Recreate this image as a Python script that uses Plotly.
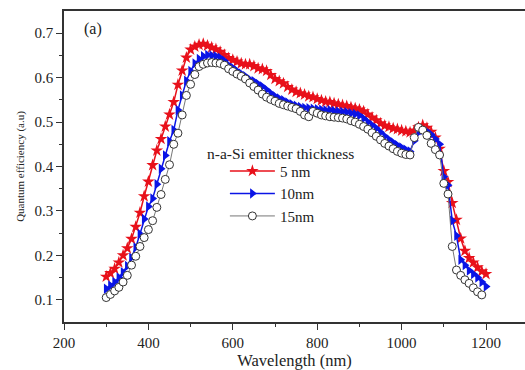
import plotly.graph_objects as go

wavelength = list(range(300, 1201, 10))

qe_5nm = [0.152, 0.160, 0.170, 0.184, 0.200, 0.216, 0.237, 0.264, 0.296, 0.333,
          0.366, 0.403, 0.436, 0.462, 0.490, 0.517, 0.545, 0.584, 0.616, 0.645,
          0.663, 0.670, 0.674, 0.676, 0.672, 0.668, 0.664, 0.658, 0.651, 0.644,
          0.640, 0.636, 0.632, 0.630, 0.630, 0.626, 0.621, 0.619, 0.615, 0.606,
          0.597, 0.592, 0.587, 0.579, 0.573, 0.568, 0.565, 0.562, 0.558, 0.556,
          0.552, 0.549, 0.546, 0.545, 0.542, 0.540, 0.538, 0.536, 0.533, 0.531,
          0.528, 0.524, 0.517, 0.510, 0.504, 0.497, 0.492, 0.489, 0.486, 0.484,
          0.481, 0.479, 0.477, 0.481, 0.488, 0.493, 0.487, 0.478, 0.465, 0.440,
          0.390, 0.365, 0.318, 0.280, 0.238, 0.210, 0.194, 0.184, 0.173, 0.164,
          0.158]

qe_10nm = [0.125, 0.132, 0.140, 0.150, 0.162, 0.176, 0.195, 0.218, 0.248, 0.282,
           0.310, 0.328, 0.360, 0.395, 0.425, 0.457, 0.482, 0.527, 0.560, 0.593,
           0.615, 0.632, 0.642, 0.648, 0.651, 0.650, 0.648, 0.645, 0.638, 0.628,
           0.622, 0.615, 0.609, 0.603, 0.596, 0.592, 0.586, 0.580, 0.573, 0.565,
           0.558, 0.553, 0.549, 0.544, 0.540, 0.537, 0.534, 0.532, 0.531, 0.530,
           0.529, 0.528, 0.527, 0.527, 0.525, 0.524, 0.523, 0.522, 0.520, 0.518,
           0.515, 0.508, 0.500, 0.493, 0.486, 0.477, 0.468, 0.461, 0.454, 0.448,
           0.443, 0.438, 0.434, 0.458, 0.477, 0.482, 0.479, 0.472, 0.462, 0.450,
           0.377, 0.358, 0.278, 0.244, 0.190, 0.178, 0.166, 0.158, 0.150, 0.140,
           0.130]

qe_15nm = [0.105, 0.112, 0.120, 0.128, 0.140, 0.155, 0.178, 0.198, 0.220, 0.240,
           0.258, 0.278, 0.308, 0.337, 0.371, 0.404, 0.450, 0.475, 0.516, 0.560,
           0.585, 0.607, 0.625, 0.630, 0.633, 0.634, 0.633, 0.632, 0.628, 0.620,
           0.614, 0.608, 0.603, 0.597, 0.588, 0.580, 0.572, 0.563, 0.556, 0.551,
           0.547, 0.542, 0.539, 0.536, 0.533, 0.530, 0.524, 0.516, 0.512, 0.524,
           0.520, 0.516, 0.514, 0.512, 0.511, 0.510, 0.509, 0.507, 0.503, 0.500,
           0.495, 0.490, 0.484, 0.476, 0.468, 0.460, 0.452, 0.446, 0.440, 0.434,
           0.430, 0.427, 0.426, 0.465, 0.488, 0.482, 0.470, 0.452, 0.438, 0.426,
           0.362, 0.338, 0.220, 0.167, 0.155, 0.145, 0.137, 0.127, 0.118, 0.111,
           None]

series_names = ["5 nm", "10nm", "15nm"]
legend_title = "n-a-Si emitter thickness"
panel_label = "(a)"
x_title = "Wavelength (nm)"
y_title = "Quantum efficiency (a.u)"
x_ticks = [200, 400, 600, 800, 1000, 1200]
y_ticks = [0.1, 0.2, 0.3, 0.4, 0.5, 0.6, 0.7]

FONT = "Liberation Serif"

fig = go.Figure()
fig.add_trace(go.Scatter(
    x=wavelength, y=qe_5nm, name=series_names[0], mode="lines+markers",
    line=dict(color="#e8101a", width=1.5),
    marker=dict(symbol="star", size=9.5, color="#e8101a", line=dict(width=0)),
))
fig.add_trace(go.Scatter(
    x=wavelength, y=qe_10nm, name=series_names[1], mode="lines+markers",
    line=dict(color="#0a14e6", width=1.5),
    marker=dict(symbol="triangle-right", size=9, color="#0a14e6", line=dict(width=0)),
))
fig.add_trace(go.Scatter(
    x=wavelength, y=qe_15nm, name=series_names[2], mode="lines+markers",
    line=dict(color="#777777", width=1),
    marker=dict(symbol="circle", size=8, color="white", line=dict(color="#333333", width=1)),
))

axis_font = dict(family=FONT, size=15, color="#222222")
fig.update_layout(
    width=525, height=370,
    margin=dict(l=64, r=0, t=11, b=48),
    paper_bgcolor="white", plot_bgcolor="white",
    font=dict(family=FONT, size=15, color="#222222"),
    showlegend=True,
    legend=dict(
        x=0.349, y=0.538, xanchor="left", yanchor="top",
        bgcolor="rgba(0,0,0,0)", borderwidth=0,
        font=dict(family=FONT, size=15, color="#222222"),
        itemwidth=45, tracegroupgap=0,
    ),
    xaxis=dict(
        range=[200, 1292.4], tickvals=x_ticks, ticks="outside", ticklen=6,
        tickwidth=1.2, tickcolor="#333333", showline=True, linecolor="#333333",
        linewidth=1.5, mirror=True, showgrid=False, zeroline=False,
        tickfont=axis_font,
        minor=dict(tickvals=[300, 500, 700, 900, 1100], ticks="outside", ticklen=3,
                   tickcolor="#333333", showgrid=False),
        title=dict(text=x_title, font=dict(family=FONT, size=16.5, color="#222222"),
                   standoff=5),
    ),
    yaxis=dict(
        range=[0.05, 0.75], tickvals=y_ticks, ticks="outside", ticklen=6,
        tickwidth=1.2, tickcolor="#333333", showline=True, linecolor="#333333",
        linewidth=1.5, mirror=False, showgrid=False, zeroline=False,
        tickfont=axis_font,
        minor=dict(tickvals=[0.15, 0.25, 0.35, 0.45, 0.55, 0.65], ticks="outside",
                   ticklen=3, tickcolor="#333333", showgrid=False),
        title=dict(text=y_title, font=dict(family=FONT, size=11, color="#222222"),
                   standoff=8),
    ),
    annotations=[
        dict(text=panel_label, xref="paper", yref="paper", x=0.039, y=0.942,
             xanchor="left", yanchor="middle", showarrow=False,
             font=dict(family=FONT, size=16, color="#222222")),
        dict(text=legend_title, xref="paper", yref="paper", x=0.306, y=0.543,
             xanchor="left", yanchor="middle", showarrow=False,
             font=dict(family=FONT, size=15.5, color="#222222")),
    ],
)

fig.write_html("out.html")
